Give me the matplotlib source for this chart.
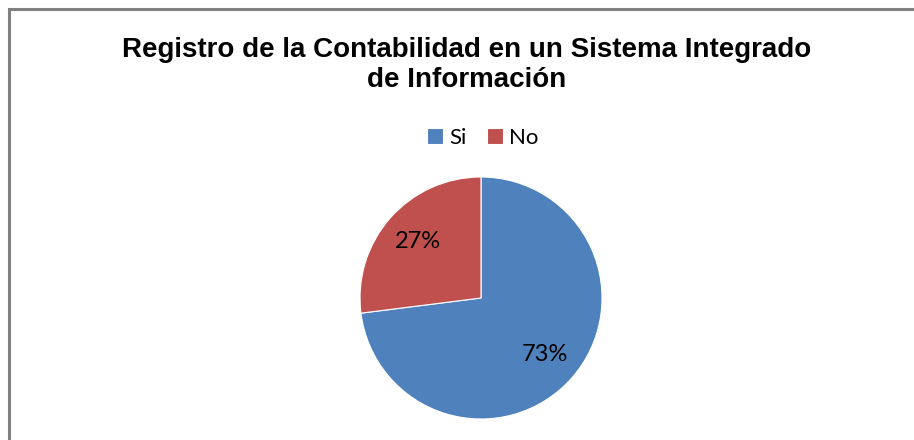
import matplotlib.pyplot as plt
from matplotlib.patches import Rectangle

labels = ['Si', 'No']
values = [73, 27]
colors = ['#4F81BD', '#C0504D']
title = 'Registro de la Contabilidad en un Sistema Integrado\nde Información'

W, H = 914, 440
fig = plt.figure(figsize=(W / 100, H / 100), dpi=100)

# gray frame, only top and left edges show (rest cut off)
fig.patches.append(Rectangle((8.5 / W, -0.1), 1.2, 1.1 - 9 / H,
                             transform=fig.transFigure, fill=False,
                             edgecolor='#808080', linewidth=2.2))

fig.text(467 / W, 1 - 65 / H, title, ha='center', va='center',
         fontsize=20, fontweight='bold', family='Liberation Sans',
         linespacing=1.22)

cx, cy, r = 481, 298, 121
ax = fig.add_axes([(cx - r) / W, (H - cy - r) / H, 2 * r / W, 2 * r / H])
wedges, texts, autotexts = ax.pie(
    values, colors=colors, startangle=90, counterclock=False,
    autopct='%1.0f%%', pctdistance=0.7,
    wedgeprops=dict(edgecolor='white', linewidth=0.8),
    textprops=dict(fontsize=17, family='Lato', color='black'))
ax.set_xlim(-1, 1)
ax.set_ylim(-1, 1)

fig.legend(wedges, labels, loc='center', bbox_to_anchor=(483 / W, 1 - 138 / H),
           ncol=2, frameon=False, prop=dict(family='Lato', size=16),
           handlelength=0.7, handleheight=0.7, handletextpad=0.3,
           columnspacing=0.9)

fig.savefig('out.png', dpi=100)
